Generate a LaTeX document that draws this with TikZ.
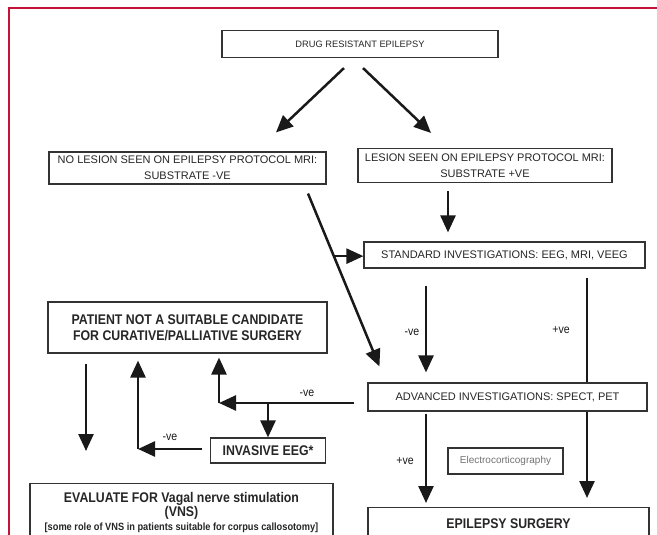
\documentclass[tikz,border=0pt]{standalone}
\usepackage{fontspec}
\setmainfont{Liberation Sans}
\newfontfamily\narrowfont[FakeStretch=0.88]{Liberation Sans}
\usetikzlibrary{arrows.meta,calc}
\definecolor{framered}{RGB}{196,18,56}

\begin{document}
\begin{tikzpicture}[x=1pt, y=-1pt,
    box/.style={draw=black!80, line width=1.1pt, fill=white, inner sep=2pt, align=center,
      text=black!85, font=\fontsize{11}{16}\selectfont},
    bigbox/.style={box, font=\narrowfont\bfseries\fontsize{14}{16}\selectfont},
    flow/.style={-{Triangle[width=15pt,length=17pt]}, line width=2.5pt, black!90},
    lab/.style={text=black!90, font=\narrowfont\fontsize{12}{14}\selectfont}]
    \useasboundingbox (0,0) rectangle (657,535);
    \clip (0,0) rectangle (657,535);
    \draw[framered, line width=1.4pt] (9,8) rectangle (700,600);

    \node[box, minimum width=276, minimum height=27, font=\fontsize{9.3}{12}\selectfont] (drug) at (360,44) {DRUG RESISTANT EPILEPSY};
    \node[box, minimum width=277, minimum height=32] (nolesion) at (187.5,168) {NO LESION SEEN ON EPILEPSY PROTOCOL MRI:\\SUBSTRATE -VE};
    \node[box, minimum width=254, minimum height=34] (lesion) at (485,165.5) {LESION SEEN ON EPILEPSY PROTOCOL MRI:\\SUBSTRATE +VE};
    \node[box, minimum width=281, minimum height=26] (standard) at (504.5,255) {STANDARD INVESTIGATIONS: EEG, MRI, VEEG};
    \node[bigbox, minimum width=279, minimum height=51] (patient) at (187.5,327.5) {PATIENT NOT A SUITABLE CANDIDATE\\FOR CURATIVE/PALLIATIVE SURGERY};
    \node[box, minimum width=279, minimum height=28] (advanced) at (507.5,397) {ADVANCED INVESTIGATIONS: SPECT, PET};
    \node[bigbox, minimum width=115, minimum height=25] (invasive) at (268,450.5) {INVASIVE EEG*};
    \node[box, minimum width=115, minimum height=26, text=black!55, font=\fontsize{10}{12}\selectfont] (ecog) at (505.5,461) {Electrocorticography};
    \node[box, minimum width=303, minimum height=70, anchor=north] (vns) at (181.5,483) {};
    \node[align=center, text=black!85, anchor=north, inner sep=0pt, font=\narrowfont\bfseries\fontsize{14}{14}\selectfont] (vnstext) at (181.5,492)
      {EVALUATE FOR Vagal nerve stimulation\\(VNS)\\{\fontsize{10.5}{14}\selectfont [some role of VNS in patients suitable for corpus callosotomy]}};
    \node[bigbox, minimum width=281, minimum height=40, anchor=north] (surgery) at (508.5,507) {};
    \node[text=black!85, font=\narrowfont\bfseries\fontsize{14}{16}\selectfont] (surgerytext) at (508.5,524) {EPILEPSY SURGERY};

    \coordinate (junction) at (219,403);
    \coordinate (fork) at (invasive.north |- junction);
    \coordinate (corner) at (138,449);
    \coordinate (colA) at (426,0);
    \coordinate (colB) at (587,0);
    \coordinate (colD) at (86,0);

    \draw[flow] ($(drug.south)+(-16,10)$) -- ($(nolesion.north)+(88.5,-19)$);
    \draw[flow] ($(drug.south)+(3,10)$) -- ($(lesion.north)+(-54,-15)$);
    \draw[flow] ($(lesion.south)+(-37,8)$) -- ($(standard.north)+(-56.5,-9)$);
    \draw[flow] ($(nolesion.south)+(120.5,9)$) coordinate (diagstart) -- ($(advanced.north west)+(12,-16)$) coordinate[pos=0.362] (split);
    \draw[flow] (split) -- (split -| standard.west);
    \draw[flow] ($(standard.south -| colA)+(0,17)$) -- ($(advanced.north -| colA)+(0,-10)$);
    \draw[line width=2.5pt, black!90] ($(standard.south -| colB)+(0,9)$) -- (advanced.north -| colB);
    \draw[flow] (advanced.south -| colB) -- ($(surgery.north -| colB)+(0,-9)$);
    \draw[flow] ($(advanced.south -| colA)+(0,2)$) -- ($(surgery.north -| colA)+(0,-4)$);
    \draw[flow] ($(advanced.west)+(-13,6)$) -- (junction);
    \draw[flow] (junction) -- ($(patient.south -| junction)+(0,4)$);
    \draw[flow] (fork) -- (invasive.north);
    \draw[flow] ($(invasive.west)+(-8,-1.5)$) -- (corner);
    \draw[flow] (corner) -- ($(patient.south -| corner)+(0,7)$);
    \draw[flow] ($(patient.south -| colD)+(0,10)$) -- ($(vns.north -| colD)+(0,-32)$);

    \node[lab] (neg1) at (412,332) {-ve};
    \node[lab] (pos1) at (561,330) {+ve};
    \node[lab] (neg2) at (307,393) {-ve};
    \node[lab] (neg3) at (170,437) {-ve};
    \node[lab] (pos2) at (405,461) {+ve};
\end{tikzpicture}
\end{document}
